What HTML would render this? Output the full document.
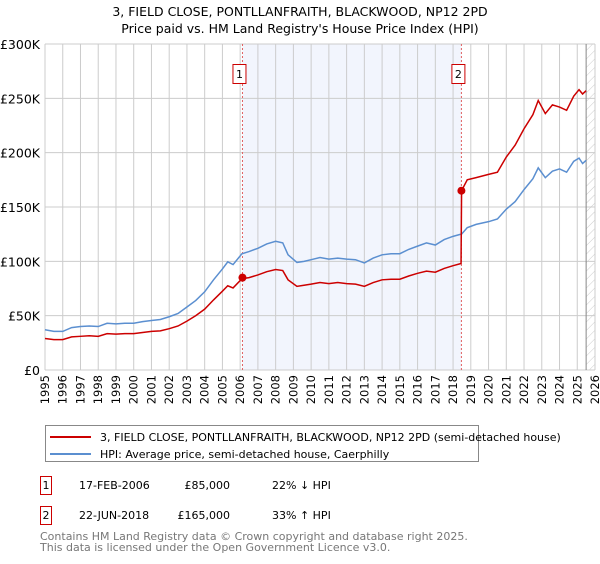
<!DOCTYPE html>
<html><head><meta charset="utf-8"><style>
body{margin:0;background:#fff;width:600px;height:560px;overflow:hidden;font-family:"DejaVu Sans","Liberation Sans",sans-serif;}
svg text{font-family:"DejaVu Sans","Liberation Sans",sans-serif;}
</style></head><body>
<svg id="chart" width="600" height="560" xmlns="http://www.w3.org/2000/svg">
<defs><pattern id="hatch" width="6" height="6" patternUnits="userSpaceOnUse" patternTransform="rotate(45)"><line x1="0" y1="0" x2="0" y2="6" stroke="#ccc" stroke-width="1"/></pattern></defs>
<text x="300" y="16" font-size="12.5" text-anchor="middle">3, FIELD CLOSE, PONTLLANFRAITH, BLACKWOOD, NP12 2PD</text>
<text x="300" y="33" font-size="12.5" text-anchor="middle">Price paid vs. HM Land Registry's House Price Index (HPI)</text>
<g id="plot"></g>
<g>
<rect x="45.5" y="425.5" width="433" height="36" fill="#fff" stroke="#888"/>
<line x1="50" y1="437" x2="91" y2="437" stroke="#cc0000" stroke-width="2"/>
<text x="100" y="441" font-size="11">3, FIELD CLOSE, PONTLLANFRAITH, BLACKWOOD, NP12 2PD (semi-detached house)</text>
<line x1="50" y1="454" x2="91" y2="454" stroke="#5b8fd0" stroke-width="2"/>
<text x="100" y="458" font-size="11">HPI: Average price, semi-detached house, Caerphilly</text>
</g>
<g font-size="11">
<rect x="40.5" y="476.5" width="11" height="18" fill="none" stroke="#cc0000"/>
<text x="46" y="489" text-anchor="middle">1</text>
<text x="79" y="489">17-FEB-2006</text><text x="230" y="489" text-anchor="end">£85,000</text><text x="272" y="489">22% ↓ HPI</text>
<rect x="40.5" y="506.5" width="11" height="18" fill="none" stroke="#cc0000"/>
<text x="46" y="519" text-anchor="middle">2</text>
<text x="79" y="519">22-JUN-2018</text><text x="230" y="519" text-anchor="end">£165,000</text><text x="272" y="519">33% ↑ HPI</text>
</g>
<text x="40" y="540" font-size="11" fill="#777">Contains HM Land Registry data © Crown copyright and database right 2025.</text>
<text x="40" y="551" font-size="11" fill="#777">This data is licensed under the Open Government Licence v3.0.</text>
</svg>
<script>
const yTicks=[0,50,100,150,200,250,300];
const yTickLabels=["£0","£50K","£100K","£150K","£200K","£250K","£300K"];
const years=[1995,1996,1997,1998,1999,2000,2001,2002,2003,2004,2005,2006,2007,2008,2009,2010,2011,2012,2013,2014,2015,2016,2017,2018,2019,2020,2021,2022,2023,2024,2025,2026];
const dates=[1995.0,1995.5,1996.0,1996.5,1997.0,1997.5,1998.0,1998.5,1999.0,1999.5,2000.0,2000.5,2001.0,2001.5,2002.0,2002.5,2003.0,2003.5,2004.0,2004.5,2005.0,2005.3,2005.6,2006.1,2006.5,2007.0,2007.5,2008.0,2008.4,2008.7,2009.2,2009.6,2010.0,2010.5,2011.0,2011.5,2012.0,2012.5,2013.0,2013.5,2014.0,2014.5,2015.0,2015.5,2016.0,2016.5,2017.0,2017.5,2018.0,2018.45,2018.48,2018.8,2019.3,2020.0,2020.5,2021.0,2021.5,2022.0,2022.5,2022.8,2023.2,2023.6,2024.0,2024.4,2024.8,2025.1,2025.3,2025.5];
const hpi=[37,35.5,35.5,39,40,40.5,40,43,42.5,43,43,44.5,45.5,46.5,49,52,58,64,72,83,93,99.5,97,107,109,112,116,118.5,117,106,99,100,101.5,103.5,102,103,102,101.5,98.5,103,106,107,107,111,114,117,115,120,123,125,125,131,134,136.5,139,148,155,166,176,186,177,183,185,182,192,195,190,193];
const price=[29,28,28,30.5,31,31.5,31,33.5,33,33.5,33.5,34.5,35.5,36,38,40.5,45,50,56,64.5,72.5,77.5,75.5,84,85,87.5,90.5,92.5,91.5,83,77,78,79,80.5,79.5,80.5,79.5,79,77,80.5,83,83.5,83.5,86.5,89,91,90,93.5,96,98,165,175,177,180,182,196,207,222,235,248,236,244,242,239,252,258,254,257];
const saleDates=[2006.13,2018.47];
const saleValues=[85,165];
const saleLabels=["1","2"];
const ns="http://www.w3.org/2000/svg";
const X0=45,X1=595,Y0=370,Y1=44;
const xs=d=>X0+(d-1995)/(2026-1995)*(X1-X0);
const ys=v=>Y0-v/300*(Y0-Y1);
const g=document.getElementById('plot');
function mk(t,a){const e=document.createElementNS(ns,t);for(const k in a)e.setAttribute(k,a[k]);g.appendChild(e);return e;}
let e;
e=mk('rect',{x:xs(saleDates[0]),y:Y1,width:xs(saleDates[1])-xs(saleDates[0]),height:Y0-Y1,fill:'#f2f5fd'});


e=mk('rect',{x:xs(2025.5),y:Y1,width:X1-xs(2025.5),height:Y0-Y1,fill:'url(#hatch)'});


years.forEach(y=>{e=mk('line',{x1:xs(y),x2:xs(y),y1:Y1,y2:Y0,stroke:'#ccc'});


e=mk('text',{x:0,y:0,'font-size':'11.5','text-anchor':'end',transform:`translate(${xs(y)+4},${Y0+5}) rotate(-90)`});e.textContent=y;

});
yTicks.forEach((v,i)=>{e=mk('line',{x1:X0,x2:X1,y1:ys(v),y2:ys(v),stroke:'#ccc'});


e=mk('text',{x:40,y:ys(v)+5,'font-size':'12.5','text-anchor':'end'});e.textContent=yTickLabels[i];

});
e=mk('line',{x1:xs(2025.5),x2:xs(2025.5),y1:Y1,y2:Y0,stroke:'#888'});


saleDates.forEach((d,i)=>{e=mk('line',{x1:xs(d),x2:xs(d),y1:Y1,y2:Y0,stroke:'#e06060','stroke-dasharray':'2,2'});

});
e=mk('polyline',{points:dates.map((d,i)=>xs(d)+','+ys(hpi[i])).join(' '),fill:'none',stroke:'#5b8fd0','stroke-width':1.5});


e=mk('polyline',{points:dates.map((d,i)=>xs(d)+','+ys(price[i])).join(' '),fill:'none',stroke:'#cc0000','stroke-width':1.5});


saleDates.forEach((d,i)=>{e=mk('circle',{cx:xs(d),cy:ys(saleValues[i]),r:4,fill:'#cc0000'});


e=mk('rect',{x:xs(d)-9.5,y:64.5,width:13,height:19,fill:'#fff',stroke:'#cc0000'});


e=mk('text',{x:xs(d)-3,y:78,'font-size':'11','text-anchor':'middle'});e.textContent=saleLabels[i];

});
</script>
</body></html>
